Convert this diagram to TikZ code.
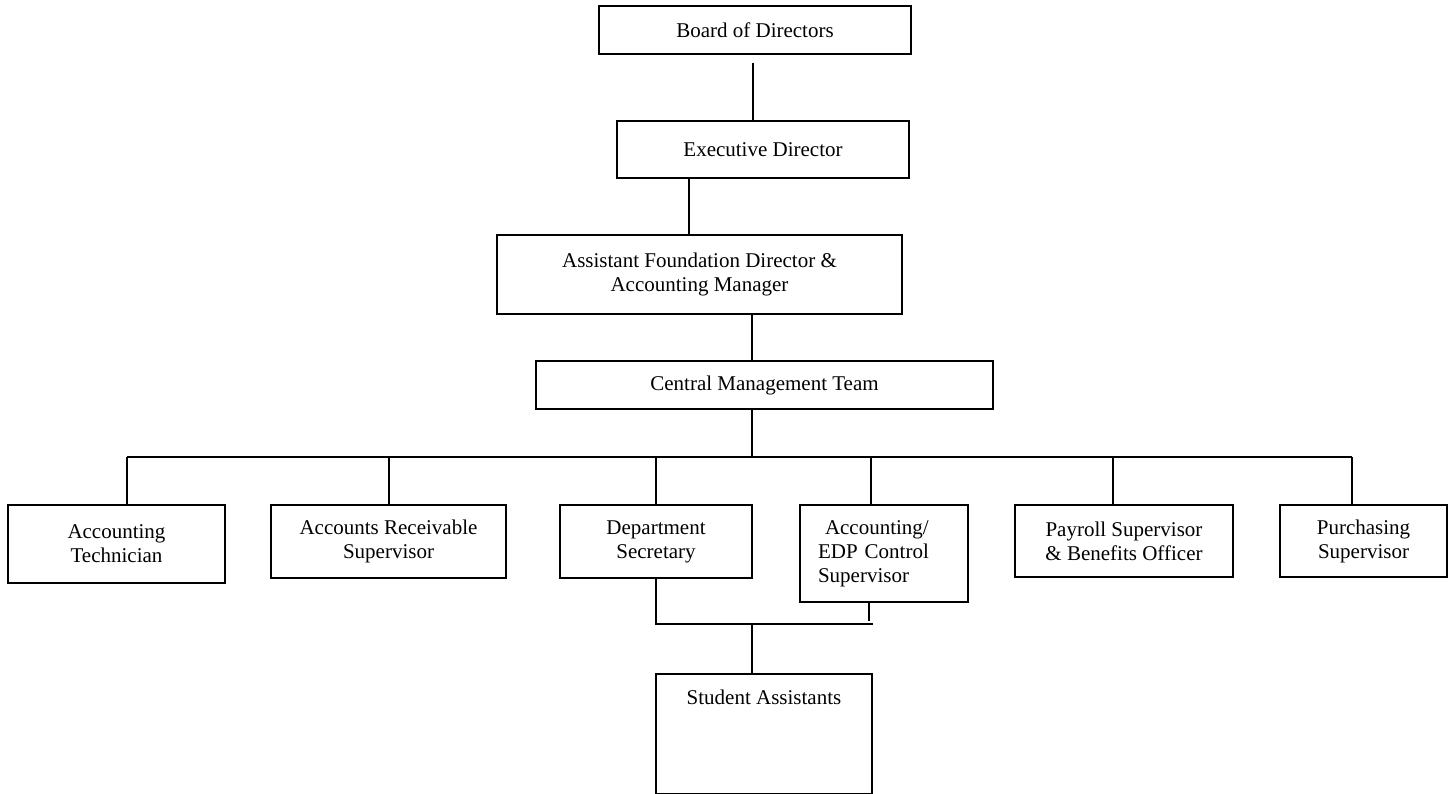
\documentclass[tikz,border=0pt]{standalone}
\usepackage{fontspec}
\setmainfont{Liberation Serif}
\begin{document}
\begin{tikzpicture}[x=1pt,y=-1pt,
  box/.style={draw, line width=1.8pt, inner sep=0pt, align=center,
    font=\fontsize{21}{24}\selectfont},
  conn/.style={line width=1.8pt}]
\useasboundingbox (0,0) rectangle (1455,794);

\node[box, minimum width=312, minimum height=48] (board) at (755,30) {Board of Directors};
\node[box, minimum width=292, minimum height=57] (exec) at (763,149.5) {Executive Director};
\node[box, minimum width=405, minimum height=79] (asst) at (699.5,274.5) {Assistant Foundation Director \&\\Accounting Manager};
\node[box, minimum width=457, minimum height=48] (central) at (764.5,385) {Central Management Team};

\node[box, minimum width=217, minimum height=78] (at) at (116.5,544) {Accounting\\Technician};
\node[box, minimum width=235, minimum height=73] (ar) at (388.5,541.5) {Accounts Receivable\\Supervisor};
\node[box, minimum width=192, minimum height=73] (ds) at (656,541.5) {Department\\Secretary};
\node[box, minimum width=168, minimum height=97, text width=132, align=left] (edp) at (884,553.5) {\ Accounting/\\EDP Control\\Supervisor};
\node[box, minimum width=218, minimum height=72] (pay) at (1124,541) {Payroll Supervisor\\\& Benefits Officer};
\node[box, minimum width=167, minimum height=72] (pur) at (1363.5,541) {Purchasing\\Supervisor};

\node[box, minimum width=216, text height=31, text depth=89] (sa) at (764,673) [anchor=north] {Student Assistants};

% top chain
\coordinate (b1) at (753,63);
\draw[conn] (b1) -- (b1 |- exec.north);
\coordinate (e1) at (689,200);
\draw[conn] (e1 |- exec.south) -- (e1 |- asst.north);
\coordinate (c1) at (752,457);
\draw[conn] (c1 |- asst.south) -- (c1 |- central.north);
\draw[conn] (c1 |- central.south) -- (c1);

% bus
\coordinate (busL) at (127,457);
\coordinate (busR) at (1352,457);
\draw[conn] (busL) -- (busR);
\foreach \x/\n in {127/at, 389/ar, 656/ds, 871/edp, 1113/pay, 1352/pur}{
  \coordinate (d\n) at (\x,457);
  \draw[conn] (d\n) -- (d\n |- \n.north);
}

% bottom
\coordinate (s1) at (656,624);
\coordinate (s2) at (873,624);
\coordinate (s3) at (869,621);
\coordinate (s4) at (752,624);
\draw[conn] (s1 |- ds.south) -- (s1) -- (s2);
\draw[conn] (s3 |- edp.south) -- (s3);
\draw[conn] (s4) -- (s4 |- sa.north);
\end{tikzpicture}
\end{document}
